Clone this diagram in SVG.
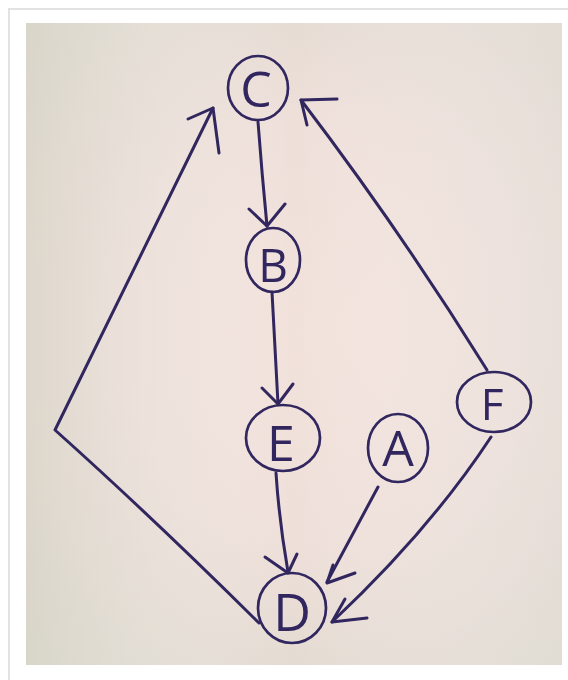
<svg xmlns="http://www.w3.org/2000/svg" width="568" height="680" viewBox="0 0 568 680">
  <defs>
    <radialGradient id="paper" cx="330" cy="330" r="430" gradientUnits="userSpaceOnUse">
      <stop offset="0" stop-color="#f3e2dc"/>
      <stop offset="0.5" stop-color="#eedfd9"/>
      <stop offset="1" stop-color="#dcd8cd"/>
    </radialGradient>
    <linearGradient id="tint" x1="0" y1="0" x2="1" y2="0">
      <stop offset="0" stop-color="#d6d3c6" stop-opacity="0.55"/>
      <stop offset="0.5" stop-color="#ffffff" stop-opacity="0"/>
      <stop offset="1" stop-color="#e4e1dc" stop-opacity="0.4"/>
    </linearGradient>
    <filter id="soft" x="-5%" y="-5%" width="110%" height="110%">
      <feGaussianBlur stdDeviation="0.6"/>
    </filter>
    <style>
      .ink { fill: none; stroke: #30265f; stroke-width: 3; stroke-linecap: round; stroke-linejoin: round; }
      .ring { fill: none; stroke: #30265f; stroke-width: 2.7; }
      .label { font-family: "Open Sans", "DejaVu Sans", sans-serif; font-weight: 400; fill: #30265f; text-anchor: middle; }
    </style>
  </defs>

  <!-- page and card frame -->
  <rect x="0" y="0" width="568" height="680" fill="#ffffff"/>
  <rect x="9" y="9" width="580" height="690" fill="#ffffff" stroke="#e2e2e2" stroke-width="2"/>

  <!-- photographed sheet -->
  <rect x="26" y="23" width="536" height="642" fill="url(#paper)"/>
  <rect x="26" y="23" width="536" height="642" fill="url(#tint)"/>

  <g filter="url(#soft)">
    <!-- connectors -->
    <g id="connectors">
      <!-- C to B -->
      <path class="ink" d="M258 122 Q262 175 267 226"/>
      <path class="ink" d="M249 209 L267 226 L285 204"/>
      <!-- B to E -->
      <path class="ink" d="M272 292 Q275 350 278 404"/>
      <path class="ink" d="M262 388 L278 404 L293 384"/>
      <!-- E to D -->
      <path class="ink" d="M276 473 Q279 520 288 572"/>
      <path class="ink" d="M265 557 L288 573 L297 554"/>
      <!-- A to D -->
      <path class="ink" d="M378 487 L327 582"/>
      <path class="ink" d="M333 565 L327 583 L355 573"/>
      <!-- F to D -->
      <path class="ink" d="M491 437 Q430 530 332 622"/>
      <path class="ink" d="M345 599 L332 622 L367 618"/>
      <!-- D to C, round the left side -->
      <path class="ink" d="M259 623 Q150 515 55 430 L213 108"/>
      <path class="ink" d="M188 119 L213 108 L219 153"/>
      <!-- F to C, round the right side -->
      <path class="ink" d="M487 370 Q400 230 301 100"/>
      <path class="ink" d="M337 99 L301 100 L307 125"/>
    </g>

    <!-- nodes -->
    <g id="node-C">
      <ellipse class="ring" cx="258" cy="88" rx="30" ry="32"/>
      <text class="label" x="256" y="107" font-size="50">C</text>
    </g>
    <g id="node-B">
      <ellipse class="ring" cx="273" cy="260" rx="27" ry="32"/>
      <text class="label" x="273" y="282" font-size="46">B</text>
    </g>
    <g id="node-E">
      <ellipse class="ring" cx="283" cy="438" rx="37" ry="33"/>
      <text class="label" x="281" y="461" font-size="50">E</text>
    </g>
    <g id="node-A">
      <ellipse class="ring" cx="398" cy="448" rx="30" ry="34"/>
      <text class="label" x="398" y="466" font-size="50">A</text>
    </g>
    <g id="node-F">
      <ellipse class="ring" cx="494" cy="402" rx="37" ry="30"/>
      <text class="label" x="492" y="420" font-size="44">F</text>
    </g>
    <g id="node-D">
      <ellipse class="ring" cx="292" cy="608" rx="34" ry="35"/>
      <text class="label" x="292" y="631" font-size="52">D</text>
    </g>
  </g>
</svg>
